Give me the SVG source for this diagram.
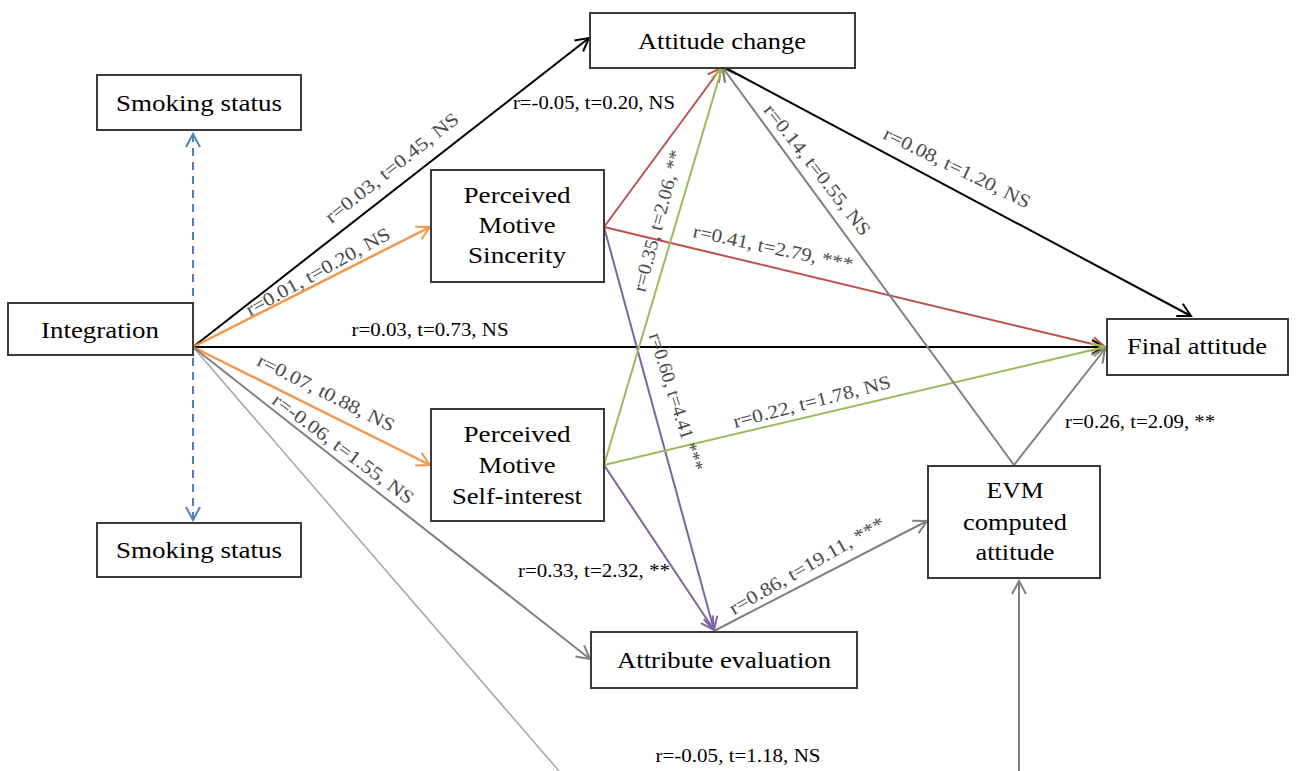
<svg xmlns="http://www.w3.org/2000/svg" width="1297" height="771" viewBox="0 0 1297 771">
<defs>
<style>
.node rect{fill:#fff;stroke:#3a3a3a;stroke-width:2}
.node text{font-family:"Liberation Serif","Times New Roman",serif;font-size:24px;fill:#000;text-anchor:middle}
.lbl{font-family:"Liberation Serif","Times New Roman",serif;font-size:19px;fill:#000;text-anchor:middle}
.rl{font-family:"Liberation Serif","Times New Roman",serif;font-size:19px;fill:#4a4a4a;text-anchor:middle}
.e{fill:none;stroke-width:2}
.k{stroke:#000}
.o{stroke:#F79646;stroke-width:2.5}
.r{stroke:#C0504D}
.g{stroke:#9BBB59}
.p{stroke:#8064A2}
.gr{stroke:#808080}
.lg{stroke:#A6A6A6;stroke-width:1.5}
.b{stroke:#4F81BD;stroke-dasharray:8,6}
</style>
<marker id="ak" markerUnits="userSpaceOnUse" viewBox="-15 -9 17 18" markerWidth="17" markerHeight="18" refX="0" refY="0" orient="auto"><path d="M-13,-7 L0,0 L-13,7" fill="none" stroke="#000" stroke-width="2"/></marker>
<marker id="ao" markerUnits="userSpaceOnUse" viewBox="-15 -9 17 18" markerWidth="17" markerHeight="18" refX="0" refY="0" orient="auto"><path d="M-13,-7 L0,0 L-13,7" fill="none" stroke="#F79646" stroke-width="2"/></marker>
<marker id="ar" markerUnits="userSpaceOnUse" viewBox="-15 -9 17 18" markerWidth="17" markerHeight="18" refX="0" refY="0" orient="auto"><path d="M-13,-7 L0,0 L-13,7" fill="none" stroke="#C0504D" stroke-width="2"/></marker>
<marker id="ag" markerUnits="userSpaceOnUse" viewBox="-15 -9 17 18" markerWidth="17" markerHeight="18" refX="0" refY="0" orient="auto"><path d="M-13,-7 L0,0 L-13,7" fill="none" stroke="#9BBB59" stroke-width="2"/></marker>
<marker id="ap" markerUnits="userSpaceOnUse" viewBox="-15 -9 17 18" markerWidth="17" markerHeight="18" refX="0" refY="0" orient="auto"><path d="M-13,-7 L0,0 L-13,7" fill="none" stroke="#8064A2" stroke-width="2"/></marker>
<marker id="agr" markerUnits="userSpaceOnUse" viewBox="-15 -9 17 18" markerWidth="17" markerHeight="18" refX="0" refY="0" orient="auto"><path d="M-13,-7 L0,0 L-13,7" fill="none" stroke="#808080" stroke-width="2"/></marker>
<marker id="ab" markerUnits="userSpaceOnUse" viewBox="-15 -9 17 18" markerWidth="17" markerHeight="18" refX="0" refY="0" orient="auto-start-reverse"><path d="M-13,-7 L0,0 L-13,7" fill="none" stroke="#4F81BD" stroke-width="2"/></marker>
</defs>
<rect width="1297" height="771" fill="#fff"/>

<g id="connectors">
<line class="e lg" x1="193" y1="347" x2="559" y2="771"/>
<line class="e b" x1="193" y1="134" x2="193" y2="520" marker-start="url(#ab)" marker-end="url(#ab)"/>
<line class="e k" x1="193" y1="347" x2="589" y2="38" marker-end="url(#ak)"/>
<line class="e o" x1="193" y1="347" x2="430" y2="227" marker-end="url(#ao)"/>
<line class="e k" x1="193" y1="347" x2="1105" y2="347" marker-end="url(#ak)"/>
<line class="e o" x1="193" y1="347" x2="430" y2="465" marker-end="url(#ao)"/>
<line class="e gr" x1="193" y1="347" x2="590" y2="659" marker-end="url(#agr)"/>
<line class="e r" x1="604" y1="227" x2="721" y2="68" marker-end="url(#ar)"/>
<line class="e r" x1="604" y1="227" x2="1105" y2="347" marker-end="url(#ar)"/>
<line class="e p" x1="604" y1="227" x2="714" y2="630" marker-end="url(#ap)"/>
<line class="e g" x1="604" y1="465" x2="722" y2="68" marker-end="url(#ag)"/>
<line class="e g" x1="604" y1="465" x2="1105" y2="347" marker-end="url(#ag)"/>
<line class="e p" x1="604" y1="465" x2="714" y2="630" marker-end="url(#ap)"/>
<line class="e gr" x1="714" y1="631" x2="927" y2="521" marker-end="url(#agr)"/>
<line class="e gr" x1="1014" y1="465" x2="723" y2="68" marker-end="url(#agr)"/>
<line class="e gr" x1="1014" y1="465" x2="1105" y2="349" marker-end="url(#agr)"/>
<line class="e k" x1="722" y1="66" x2="1191" y2="316" marker-end="url(#ak)"/>
<line class="e gr" x1="1019" y1="771" x2="1019" y2="581" marker-end="url(#agr)"/>

<text class="rl" transform="translate(392,168) rotate(-38.5)" y="6" textLength="165" lengthAdjust="spacingAndGlyphs">r=0.03, t=0.45, NS</text>
<text class="rl" transform="translate(318,272) rotate(-29)" y="6" textLength="162" lengthAdjust="spacingAndGlyphs">r=0.01, t=0.20, NS</text>
<text class="lbl" x="430" y="336" textLength="157" lengthAdjust="spacingAndGlyphs">r=0.03, t=0.73, NS</text>
<text class="rl" transform="translate(326,393) rotate(26.5)" y="6" textLength="151" lengthAdjust="spacingAndGlyphs">r=0.07, t0.88, NS</text>
<text class="rl" transform="translate(343,449) rotate(36.7)" y="6" textLength="171" lengthAdjust="spacingAndGlyphs">r=-0.06, t=1.55, NS</text>
<text class="lbl" x="594" y="109" textLength="162" lengthAdjust="spacingAndGlyphs">r=-0.05, t=0.20, NS</text>
<text class="rl" transform="translate(658,221) rotate(-75)" y="6" textLength="146" lengthAdjust="spacingAndGlyphs">r=0.35, t=2.06, **</text>
<text class="rl" transform="translate(773,248) rotate(12)" y="6" textLength="163" lengthAdjust="spacingAndGlyphs">r=0.41, t=2.79, ***</text>
<text class="rl" transform="translate(817,170) rotate(52)" y="6" textLength="161" lengthAdjust="spacingAndGlyphs">r=0.14, t=0.55, NS</text>
<text class="rl" transform="translate(957,168) rotate(26)" y="6" textLength="161" lengthAdjust="spacingAndGlyphs">r=0.08, t=1.20, NS</text>
<text class="rl" transform="translate(676,402) rotate(72.5)" y="6" textLength="144" lengthAdjust="spacingAndGlyphs">r=0.60, t=4.41 ***</text>
<text class="rl" transform="translate(812,402) rotate(-14.5)" y="6" textLength="162" lengthAdjust="spacingAndGlyphs">r=0.22, t=1.78, NS</text>
<text class="lbl" x="594" y="577" textLength="152" lengthAdjust="spacingAndGlyphs">r=0.33, t=2.32, **</text>
<text class="rl" transform="translate(807,566) rotate(-30)" y="6" textLength="176" lengthAdjust="spacingAndGlyphs">r=0.86, t=19.11, ***</text>
<text class="lbl" x="1140" y="428" textLength="150" lengthAdjust="spacingAndGlyphs">r=0.26, t=2.09, **</text>
<text class="lbl" x="738" y="762" textLength="165" lengthAdjust="spacingAndGlyphs">r=-0.05, t=1.18, NS</text>
</g>

<g id="attitude-change" class="node"><rect x="590" y="13" width="265" height="55"/><text x="722" y="49" textLength="168" lengthAdjust="spacingAndGlyphs">Attitude change</text></g>
<g id="smoking-top" class="node"><rect x="97" y="75" width="204" height="55"/><text x="199" y="111" textLength="166" lengthAdjust="spacingAndGlyphs">Smoking status</text></g>
<g id="smoking-bottom" class="node"><rect x="97" y="523" width="204" height="54"/><text x="199" y="558" textLength="166" lengthAdjust="spacingAndGlyphs">Smoking status</text></g>
<g id="integration" class="node"><rect x="8" y="303" width="185" height="52"/><text x="100" y="338" textLength="118" lengthAdjust="spacingAndGlyphs">Integration</text></g>
<g id="sincerity" class="node"><rect x="431" y="170" width="173" height="112"/><text x="517" y="203" textLength="107" lengthAdjust="spacingAndGlyphs">Perceived</text><text x="517" y="233" textLength="77" lengthAdjust="spacingAndGlyphs">Motive</text><text x="517" y="263" textLength="98" lengthAdjust="spacingAndGlyphs">Sincerity</text></g>
<g id="self-interest" class="node"><rect x="431" y="409" width="173" height="112"/><text x="517" y="442" textLength="107" lengthAdjust="spacingAndGlyphs">Perceived</text><text x="517" y="473" textLength="77" lengthAdjust="spacingAndGlyphs">Motive</text><text x="517" y="504" textLength="130" lengthAdjust="spacingAndGlyphs">Self-interest</text></g>
<g id="final-attitude" class="node"><rect x="1107" y="319" width="181" height="56"/><text x="1197" y="354" textLength="140" lengthAdjust="spacingAndGlyphs">Final attitude</text></g>
<g id="evm" class="node"><rect x="928" y="466" width="172" height="112"/><text x="1015" y="498" textLength="57" lengthAdjust="spacingAndGlyphs">EVM</text><text x="1015" y="530" textLength="104" lengthAdjust="spacingAndGlyphs">computed</text><text x="1015" y="560" textLength="79" lengthAdjust="spacingAndGlyphs">attitude</text></g>
<g id="attribute-evaluation" class="node"><rect x="591" y="632" width="266" height="56"/><text x="724" y="668" textLength="214" lengthAdjust="spacingAndGlyphs">Attribute evaluation</text></g>
</svg>
